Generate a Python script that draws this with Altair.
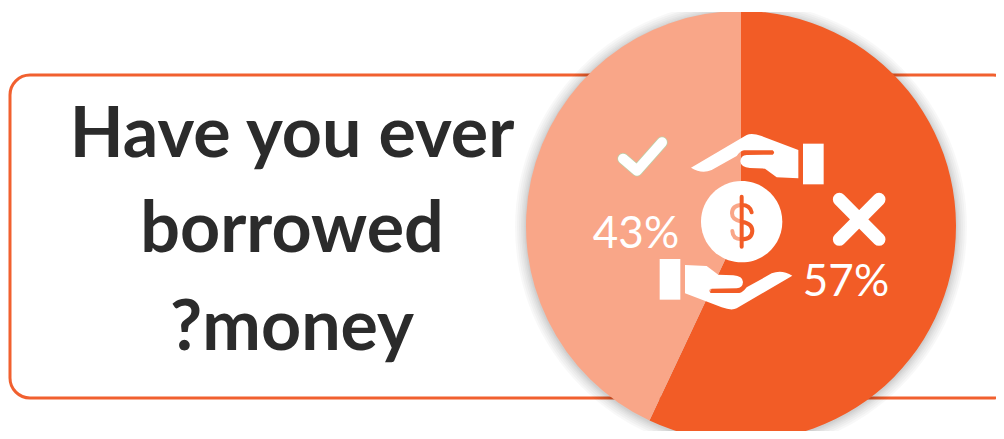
import re
import altair as alt
import pandas as pd

categories = ["No", "Yes"]
values = [57, 43]
labels = ["57%", "43%"]
title_lines = ["Have you ever", "borrowed", "?money"]

DARK = "#f25c26"
LIGHT = "#f9a688"
INK = "#2b2b2b"

HAND = ("M333 143 L500 45 Q515 37 545 48 L655 90 L655 175 L590 172 L555 146 L510 144 "
        "Q482 142 481 124 Q482 106 500 105 L578 104 Q587 98 578 91 L492 91 Q482 92 470 108 "
        "L395 150 Q365 163 333 143 Z")


def flip(path, cx=970, cy=610):
    nums = iter(re.findall(r"[A-Z]|-?\d+", path))
    out, is_x = [], True
    for tok in nums:
        if tok.isalpha():
            out.append(tok)
        else:
            out.append(str((cx if is_x else cy) - int(tok)))
            is_x = not is_x
    return " ".join(out)


def rect(x0, y0, x1, y1):
    return f"M{x0} {y0} L{x1} {y0} L{x1} {y1} L{x0} {y1} Z"


def circle(cx, cy, r):
    return f"M{cx-r} {cy} A{r} {r} 0 1 1 {cx+r} {cy} A{r} {r} 0 1 1 {cx-r} {cy} Z"


anchor = dict(x=alt.value(572), y=alt.value(112))
one = pd.DataFrame({"k": [0]})
SIZE = 4 / 9


def icon(path):
    return alt.Chart(one).mark_point(shape=path, size=SIZE, filled=True, fill="white",
                                     strokeWidth=0, opacity=1).encode(**anchor)


def stroke_icon(path, color, width):
    return alt.Chart(one).mark_point(shape=path, size=SIZE, filled=False, stroke=color,
                                     strokeWidth=width, strokeCap="round", strokeJoin="round",
                                     opacity=1).encode(**anchor)


box = alt.Chart(one).mark_rect(fill="white", stroke="#f1602f", strokeWidth=3, cornerRadius=20).encode(
    x=alt.value(2), x2=alt.value(1005), y=alt.value(67), y2=alt.value(390))

shadows = [
    alt.Chart(one).mark_arc(theta=0, theta2=6.2832, outerRadius=r, fill="#000000", opacity=0.028).encode(
        x=alt.value(733), y=alt.value(219))
    for r in (226, 224, 222, 220, 218.5, 217, 216)
]

df = pd.DataFrame({"c": categories, "v": values, "i": [0, 1]})
pie = alt.Chart(df).mark_arc(outerRadius=215, innerRadius=0).encode(
    theta=alt.Theta("v:Q", stack=True),
    order=alt.Order("i:Q"),
    color=alt.Color("c:N", scale=alt.Scale(domain=categories, range=[DARK, LIGHT]), legend=None),
    x=alt.value(733), y=alt.value(218))

mask = alt.Chart(one).mark_rect(fill="white", strokeWidth=0).encode(
    x=alt.value(0), x2=alt.value(988), y=alt.value(0), y2=alt.value(4))

titles = [
    alt.Chart(pd.DataFrame({"t": [t]})).mark_text(
        font="Lato", fontWeight="bold", fontSize=70, color=INK, align="center", baseline="alphabetic"
    ).encode(text="t:N", x=alt.value(284), y=alt.value(y))
    for t, y in zip(title_lines, (149, 244, 342))
]

pct = [
    alt.Chart(pd.DataFrame({"t": [labels[1]]})).mark_text(
        font="Lato", fontSize=44, color="white", align="center", baseline="alphabetic"
    ).encode(text="t:N", x=alt.value(628), y=alt.value(240)),
    alt.Chart(pd.DataFrame({"t": [labels[0]]})).mark_text(
        font="Lato", fontSize=44, color="white", align="center", baseline="alphabetic"
    ).encode(text="t:N", x=alt.value(838), y=alt.value(288)),
]

icons = [
    icon(HAND), icon(rect(669, 71, 731, 193)),
    icon(flip(HAND)), icon(rect(239, 417, 301, 539)),
    icon(circle(485, 305, 122)),
    stroke_icon("M129 116 L171 152 L246 67", "#bcd0a8", 11.5),
    stroke_icon("M129 116 L171 152 L246 67", "white", 10),
    stroke_icon("M778 238 L897 358 M897 238 L778 358", "white", 13),
    stroke_icon("M485 255 Q456 256 456 280 Q456 300 485 305", LIGHT, 4),
    stroke_icon("M485 358 Q458 358 457 333", LIGHT, 4),
    stroke_icon("M515 277 Q510 255 485 255 M485 305 Q517 310 517 333 Q515 358 485 358 M485 230 L485 380", DARK, 4),
]

chart = alt.layer(box, *shadows, pie, mask, *titles, *icons, *pct).properties(
    width=988, height=423, padding=0, autosize="none", background="white"
).configure_view(strokeWidth=0)

chart.save("out.html", embed_options={"renderer": "svg", "actions": False})
